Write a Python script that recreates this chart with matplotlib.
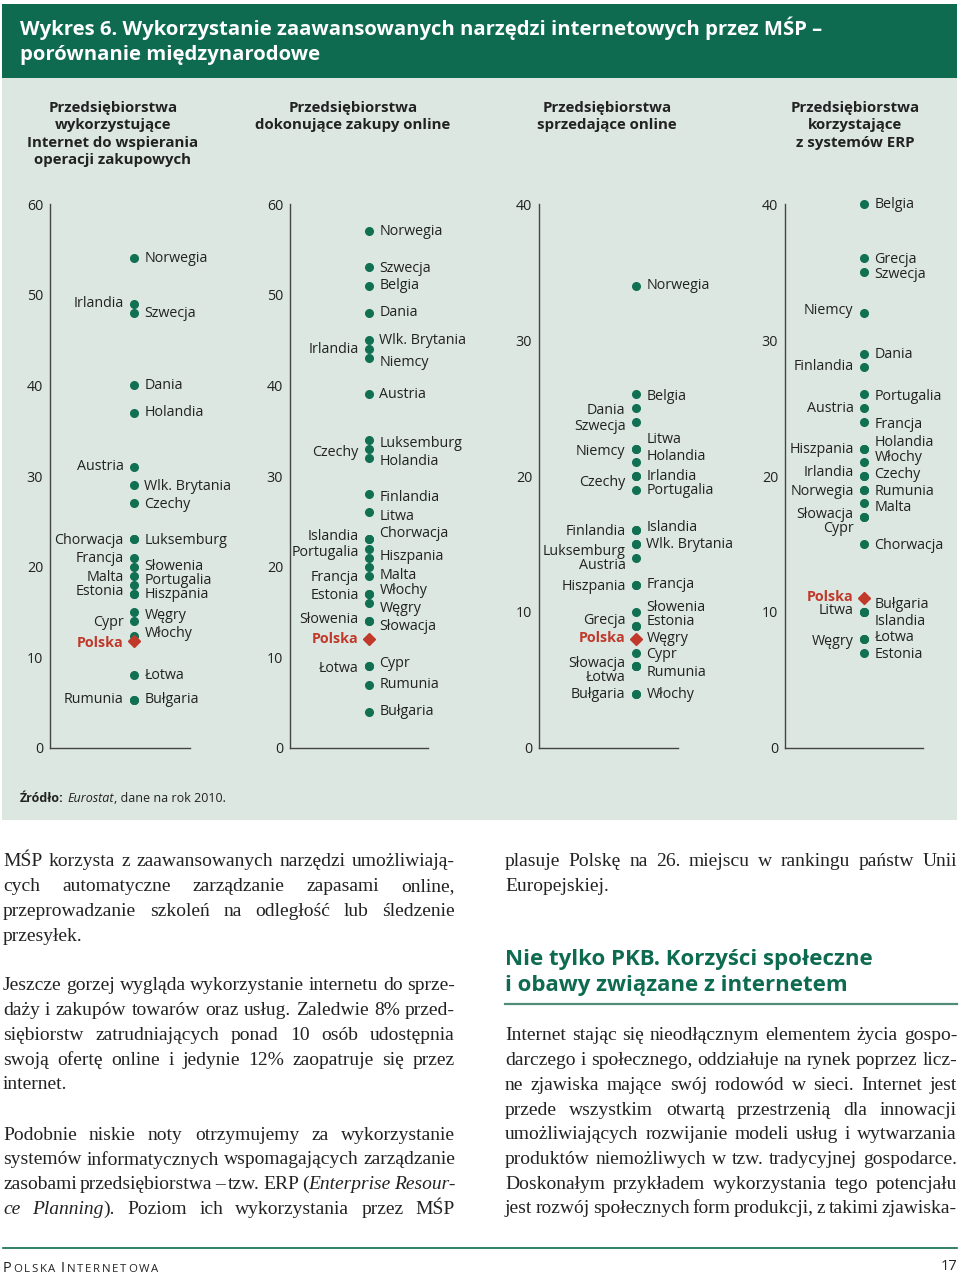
import matplotlib
matplotlib.use('Agg')
import matplotlib.pyplot as plt
from matplotlib.patches import Rectangle
from matplotlib.lines import Line2D

W, H = 960, 1276
SANS = 'Open Sans'
SERIF = 'Liberation Serif'
GREEN = '#0e6b50'
DOT = '#117052'
RED = '#c0392b'
BG = '#dce7e2'
INK = '#222222'

# --- data: share of SMEs (%) per country, four panels ---
titles = [
    "Przedsiębiorstwa\nwykorzystujące\nInternet do wspierania\noperacji zakupowych",
    "Przedsiębiorstwa\ndokonujące zakupy online",
    "Przedsiębiorstwa\nsprzedające online",
    "Przedsiębiorstwa\nkorzystające\nz systemów ERP",
]
ymaxes = [60, 60, 40, 40]

p1_names = ["Norwegia", "Irlandia", "Szwecja", "Dania", "Holandia", "Austria",
            "Wlk. Brytania", "Czechy", "Chorwacja", "Luksemburg", "Francja",
            "Słowenia", "Malta", "Portugalia", "Estonia", "Hiszpania", "Węgry",
            "Cypr", "Włochy", "Polska", "Łotwa", "Rumunia", "Bułgaria"]
p1_values = [54, 49, 48, 40, 37, 31, 29, 27, 23, 23, 21, 20, 19, 18, 17, 17,
             15, 14, 12.4, 11.8, 8, 5.3, 5.3]

p2_names = ["Norwegia", "Szwecja", "Belgia", "Dania", "Wlk. Brytania", "Irlandia",
            "Niemcy", "Austria", "Luksemburg", "Czechy", "Holandia", "Finlandia",
            "Litwa", "Chorwacja", "Islandia", "Portugalia", "Hiszpania", "Malta",
            "Francja", "Estonia", "Włochy", "Węgry", "Słowenia", "Słowacja",
            "Polska", "Łotwa", "Cypr", "Rumunia", "Bułgaria"]
p2_values = [57, 53, 51, 48, 45, 44, 43, 39, 34, 33, 32, 28, 26, 23, 23, 22, 21,
             20, 19, 17, 17, 16, 14, 14, 12, 9, 9, 7, 4]

p3_names = ["Norwegia", "Belgia", "Dania", "Szwecja", "Niemcy", "Litwa", "Holandia",
            "Irlandia", "Czechy", "Portugalia", "Finlandia", "Islandia",
            "Wlk. Brytania", "Luksemburg", "Austria", "Hiszpania", "Francja",
            "Słowenia", "Grecja", "Estonia", "Polska", "Węgry", "Cypr", "Słowacja",
            "Łotwa", "Rumunia", "Bułgaria", "Włochy"]
p3_values = [34, 26, 25, 24, 22, 22, 21, 20, 20, 19, 16, 16, 15, 15, 14, 12, 12,
             10, 9, 9, 8, 8, 7, 6, 6, 6, 4, 4]

p4_names = ["Belgia", "Grecja", "Szwecja", "Niemcy", "Dania", "Finlandia",
            "Portugalia", "Austria", "Francja", "Hiszpania", "Holandia", "Włochy",
            "Irlandia", "Czechy", "Norwegia", "Rumunia", "Malta", "Słowacja", "Cypr",
            "Chorwacja", "Polska", "Litwa", "Bułgaria", "Islandia", "Węgry",
            "Łotwa", "Estonia"]
p4_values = [40, 36, 35, 32, 29, 28, 26, 25, 24, 22, 22, 21, 20, 20, 19, 19, 18,
             17, 17, 15, 11, 10, 10, 10, 8, 8, 7]

# --- label layout: side of the dot and small vertical nudge (px, + = down) ---
p1_sides = "RLRRRLRRLRLRLRLRRLRLRLR"
p1_dy = [0, 0, 1, 0, 0, 0, 1, 1, 1, 1, 1, 0, 2, -4.5, -2, 1, 4, 1, -2, 2, 0, 0, 0]
p2_sides = "RRRRRLRRRLRRRRLLRRLLRRLRLLRRR"
p2_dy = [0, 1, 0, 0, 1, 0, 4, 0, 4, 4, 4, 3, 4, -6, -3, 3.5, -1, 9, 2, 2, -3.5,
         6, -2, 5, 0, 2, -3, 0, 0]
p3_sides = "RRLLLRRRLRLRRLLLRRLRLRRLLRLR"
p3_dy = [0, 2, 2, 5, 3, -9, -6, 0, 7, 1, 1, -3, 1, 8, 8, 2, 0, -4, -5, -4, -1,
         -1, 2, -3, 11, 6, 1, 1]
p4_sides = "RRRLRLRLRLRRLRLRRLLRLLRRLRR"
p4_dy = [0, 1, 2, -2, 1, -1, 2, 0, 3, 1, -6, -5, -4, -2, 2, 2, 4, -2, 12, 2, -1,
         -1, -7, 10, 2, -2, 2]

panels = [(p1_names, p1_values, p1_sides, p1_dy),
          (p2_names, p2_values, p2_sides, p2_dy),
          (p3_names, p3_values, p3_sides, p3_dy),
          (p4_names, p4_values, p4_sides, p4_dy)]
# axis left px, axis right px, dot column px, title centre px
geom = [(50, 190, 134, 113), (290, 428, 369, 353),
        (539, 678, 636, 607), (785, 923, 864, 855)]


def fx(x):
    return x / W


def fy(y):
    return 1 - y / H


fig = plt.figure(figsize=(W / 100, H / 100), dpi=100)
fig.patch.set_facecolor('white')
renderer = fig.canvas.get_renderer()

# backgrounds
fig.add_artist(Rectangle((fx(2), fy(820)), fx(955), 742 / H, transform=fig.transFigure,
                         facecolor=BG, edgecolor='none', zorder=0))
fig.add_artist(Rectangle((fx(2), fy(78)), fx(955), 74 / H, transform=fig.transFigure,
                         facecolor=GREEN, edgecolor='none', zorder=0))

fig.text(fx(20), fy(28), "Wykres 6. Wykorzystanie zaawansowanych narzędzi internetowych przez MŚP –",
         color='white', fontsize=14.6, fontweight='bold', family=SANS, va='center')
fig.text(fx(20), fy(55), "porównanie międzynarodowe",
         color='white', fontsize=14.6, fontweight='bold', family=SANS, va='center')

for (names, values, sides, dys), (xl, xr, xd, xc), ttl, ymax in zip(panels, geom, titles, ymaxes):
    fig.text(fx(xc), fy(101), ttl, ha='center', va='top', fontsize=10.8, fontweight='bold',
             family=SANS, color=INK, linespacing=1.3)
    ax = fig.add_axes([fx(xl), fy(748), (xr - xl) / W, (748 - 204) / H])
    ax.set_facecolor('none')
    ax.set_xlim(0, 1)
    ax.set_ylim(0, ymax)
    for s in ['top', 'right']:
        ax.spines[s].set_visible(False)
    for s in ['left', 'bottom']:
        ax.spines[s].set_color('#444444')
        ax.spines[s].set_linewidth(1.0)
    ax.set_xticks([])
    ax.set_yticks(range(0, ymax + 1, 10))
    ax.tick_params(axis='y', length=0, pad=5, labelsize=10.3, labelcolor=INK)
    for lab in ax.get_yticklabels():
        lab.set_family(SANS)
    xpos = (xd - xl) / (xr - xl)
    for name, v, side, dy in zip(names, values, sides, dys):
        pol = name == "Polska"
        if pol:
            ax.plot([xpos], [v], marker='D', ms=6.5, color=RED, mec=RED, zorder=4, clip_on=False)
        else:
            ax.plot([xpos], [v], marker='o', ms=5.5, color=DOT, mec=DOT, zorder=3, clip_on=False)
        sgn = 1 if side == 'R' else -1
        ax.annotate(name, (xpos, v), xytext=(sgn * 7.5, -dy * 0.72), textcoords='offset points',
                    ha='left' if side == 'R' else 'right', va='center', fontsize=10.3,
                    family=SANS, color=RED if pol else INK,
                    fontweight='bold' if pol else 'normal', annotation_clip=False)


def text_width(s, **kw):
    t = fig.text(0, 0, s, **kw)
    w = t.get_window_extent(renderer).width
    t.remove()
    return w


def draw_runs(x, y, runs, track=0.0):
    # runs: list of (text, kwargs), drawn one after another
    for s, kw in runs:
        if s == ' ':
            x += text_width('a a', **kw) - text_width('aa', **kw)
            continue
        if track:
            for ch in s:
                fig.text(fx(x), fy(y), ch, va='baseline', ha='left', **kw)
                x += text_width(ch, **kw) + track
        else:
            fig.text(fx(x), fy(y), s, va='center', ha='left', **kw)
            x += text_width(s, **kw)
    return x


src_kw = dict(family=SANS, fontsize=9, color=INK)
draw_runs(20, 798, [("Źródło:", dict(src_kw, fontweight='bold')), (' ', src_kw),
                    ("Eurostat", dict(src_kw, style='italic')),
                    (", dane na rok 2010.", src_kw)])

# --- body text ---
BODY = 14.0


def body_line(line, x0, x1, y, justify=True, state=None):
    # '*' toggles italic; italic state carries across lines via state list
    if state is None:
        state = [False]
    words = []
    for w in line.split(' '):
        segs = []
        for k, part in enumerate(w.split('*')):
            if k > 0:
                state[0] = not state[0]
            if part:
                segs.append((part, state[0]))
        words.append(segs)
    kw = dict(family=SERIF, fontsize=BODY, color=INK)
    widths = [sum(text_width(p, style='italic' if it else 'normal', **kw) for p, it in segs)
              for segs in words]
    if justify and len(words) > 1:
        gap = (x1 - x0 - sum(widths)) / (len(words) - 1)
    else:
        gap = text_width('a a', **kw) - text_width('aa', **kw)
    x = x0
    for segs, wd in zip(words, widths):
        xx = x
        for p, it in segs:
            st = 'italic' if it else 'normal'
            fig.text(fx(xx), fy(y), p, va='center', ha='left', style=st, **kw)
            xx += text_width(p, style=st, **kw)
        x += wd + gap


left_paras = [
    (862, ["MŚP korzysta z zaawansowanych narzędzi umożliwiają-",
           "cych automatyczne zarządzanie zapasami online,",
           "przeprowadzanie szkoleń na odległość lub śledzenie",
           "przesyłek."]),
    (986, ["Jeszcze gorzej wygląda wykorzystanie internetu do sprze-",
           "daży i zakupów towarów oraz usług. Zaledwie 8% przed-",
           "siębiorstw zatrudniających ponad 10 osób udostępnia",
           "swoją ofertę online i jedynie 12% zaopatruje się przez",
           "internet."]),
    (1135, ["Podobnie niskie noty otrzymujemy za wykorzystanie",
            "systemów informatycznych wspomagających zarządzanie",
            "zasobami przedsiębiorstwa – tzw. ERP (*Enterprise Resour-",
            "ce Planning*). Poziom ich wykorzystania przez MŚP"]),
]
right_paras = [
    (862, ["plasuje Polskę na 26. miejscu w rankingu państw Unii",
           "Europejskiej."]),
    (1036, ["Internet stając się nieodłącznym elementem życia gospo-",
            "darczego i społecznego, oddziałuje na rynek poprzez licz-",
            "ne zjawiska mające swój rodowód w sieci. Internet jest",
            "przede wszystkim otwartą przestrzenią dla innowacji",
            "umożliwiających rozwijanie modeli usług i wytwarzania",
            "produktów niemożliwych w tzw. tradycyjnej gospodarce.",
            "Doskonałym przykładem wykorzystania tego potencjału",
            "jest rozwój społecznych form produkcji, z takimi zjawiska-"]),
]
LEAD = 24.7
for paras, x0, x1 in [(left_paras, 3, 455), (right_paras, 505, 957)]:
    for k, (y0, lines) in enumerate(paras):
        st = [False]
        for i, ln in enumerate(lines):
            is_last = i == len(lines) - 1
            # paragraph endings are set ragged; lines running on to the next page stay justified
            just = (not is_last) or (k == len(paras) - 1)
            body_line(ln, x0, x1, y0 + i * LEAD, justify=just, state=st)

fig.text(fx(505), fy(960), "Nie tylko PKB. Korzyści społeczne", color=GREEN, fontsize=16,
         fontweight='bold', family=SANS, va='center')
fig.text(fx(505), fy(985), "i obawy związane z internetem", color=GREEN, fontsize=16,
         fontweight='bold', family=SANS, va='center')
fig.add_artist(Line2D([fx(505), fx(957)], [fy(1004), fy(1004)], color='#4f8c7a', lw=1.6,
                      transform=fig.transFigure))

# footer
fig.add_artist(Line2D([fx(3), fx(957)], [fy(1248), fy(1248)], color=GREEN, lw=1.2,
                      transform=fig.transFigure))
big = dict(family=SANS, fontsize=10.5, color=INK)
small = dict(family=SANS, fontsize=8.2, color=INK)
draw_runs(3, 1272, [("P", big), ("OLSKA", small), (' ', big), ("I", big), ("NTERNETOWA", small)],
          track=1.7)
fig.text(fx(957), fy(1267), "17", ha='right', va='center', **big)

fig.savefig('out.png', dpi=100, facecolor='white')
